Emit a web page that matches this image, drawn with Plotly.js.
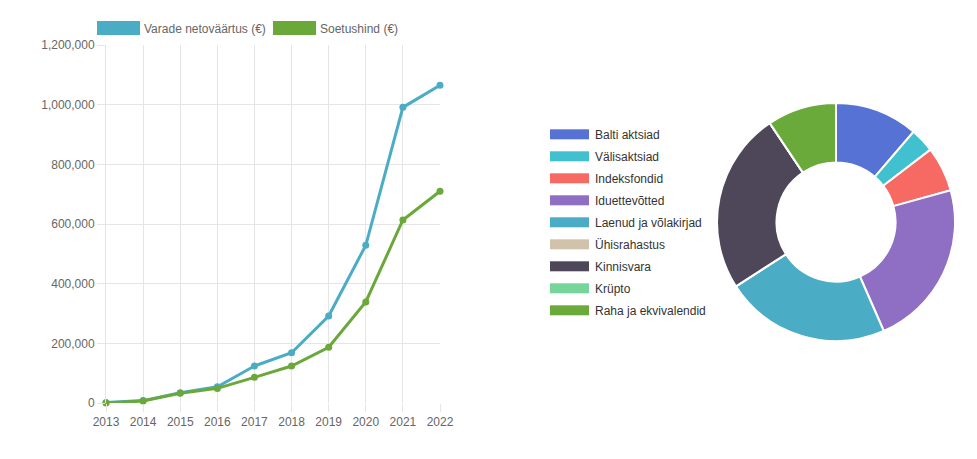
<!DOCTYPE html>
<html><head><meta charset="utf-8">
<script src="https://cdn.plot.ly/plotly-3.0.1.min.js"></script>
<style>html,body{margin:0;padding:0;background:#fff}#chart{width:977px;height:459px}</style>
</head><body><div id="chart"></div>
<script>
const years = ['2013','2014','2015','2016','2017','2018','2019','2020','2021','2022'];
const netWorth = [2000, 8000, 34500, 54600, 124000, 168600, 291600, 528600, 991000, 1065000];
const costBasis = [0, 6700, 33000, 49000, 86000, 124000, 186700, 338600, 613500, 709700];
const lineNames = ['Varade netoväärtus (€)', 'Soetushind (€)'];
const lineColors = ['#4bacc6', '#6aa839'];

const assetLabels = ['Balti aktsiad','Välisaktsiad','Indeksfondid','Iduettevõtted','Laenud ja võlakirjad','Ühisrahastus','Kinnisvara','Krüpto','Raha ja ekvivalendid'];
const assetShares = [11.3, 3.3, 6.1, 22.75, 22.5, 0, 24.7, 0, 9.4];
const assetColors = ['#5572d4','#41c1cf','#f76a63','#8e6fc4','#4bacc6','#d1c3ab','#4e4659','#75d59a','#6aaa3a'];

const font = {family: 'Liberation Sans, Arial, sans-serif', size: 12, color: '#666'};

const data = [
  {type:'scatter', mode:'lines+markers', x: years.map(Number), y: netWorth, name: lineNames[0], cliponaxis:false,
   line:{color: lineColors[0], width:3}, marker:{color: lineColors[0], size:7}, legend:'legend'},
  {type:'scatter', mode:'lines+markers', x: years.map(Number), y: costBasis, name: lineNames[1], cliponaxis:false,
   line:{color: lineColors[1], width:3}, marker:{color: lineColors[1], size:7}, legend:'legend'},
  {type:'pie', labels: assetLabels, values: assetShares, sort:false, direction:'clockwise', rotation:0,
   hole:0.5, textinfo:'none', marker:{colors: assetColors, line:{color:'#fff', width:2}},
   domain:{x:[0.7339,0.9775], y:[0.257,0.7756]}, legend:'legend2', showlegend:true}
];

const layout = {
  width:977, height:459, margin:{l:0,r:0,t:0,b:0},
  paper_bgcolor:'#fff', plot_bgcolor:'#fff', font: font,
  xaxis:{domain:[106/977, 440/977], range:[2013,2022], tickmode:'array', tickvals: years.map(Number), ticktext: years,
    showgrid:true, gridcolor:'#e5e5e5', zeroline:false, showline:false, ticks:'outside', ticklen:8, tickcolor:'#e5e5e5', tickfont:font},
  yaxis:{domain:[1-403/459, 1-45/459], range:[0,1200000], dtick:200000, tickformat:',d',
    showgrid:true, gridcolor:'#e5e5e5', zeroline:false, showline:true, linecolor:'#e5e5e5', ticks:'outside', ticklen:8, tickcolor:'#e5e5e5', tickfont:font},
  legend:{orientation:'h', x:0.275, xanchor:'center', y:1-28/459, yanchor:'middle', font:{...font, color:'#666'}, bgcolor:'rgba(0,0,0,0)', itemwidth:50},
  legend2:{orientation:'v', x:547/977, xanchor:'left', y:1-133/459, yanchor:'top', font:{...font, color:'#333'}, bgcolor:'rgba(0,0,0,0)', itemwidth:50, traceorder:'normal'},
  showlegend:true
};

// legend styling (wide boxes like the reference)
const legendStyles = {
  legend:  {w:43, h:14, gap:4, boxX:[97, 273], centerY:[28, 28], colors: lineColors},
  legend2: {w:39, h:10, gap:6, boxX: assetLabels.map(()=>550), centerY: assetLabels.map((_,i)=>134.3 + i*22), colors: assetColors}
};

function restyleLegend(gd, cls, st){
  const leg = gd.querySelector('g.' + cls);
  if (!leg) return;
  leg.querySelectorAll('[clip-path]').forEach(e => e.removeAttribute('clip-path'));
  leg.removeAttribute('clip-path');
  const svgRect = gd.querySelector('svg.main-svg').getBoundingClientRect();
  const items = leg.querySelectorAll('g.traces');
  items.forEach((it, i) => {
    if (i >= st.colors.length) return;
    it.querySelectorAll('.legendlines path, .legendpoints path').forEach(p => p.style.display = 'none');
    let r = it.querySelector('rect.boxsym');
    if (!r) {
      r = document.createElementNS('http://www.w3.org/2000/svg', 'rect');
      r.setAttribute('class', 'boxsym');
      it.appendChild(r);
    }
    r.setAttribute('x', 0); r.setAttribute('y', -st.h/2);
    r.setAttribute('width', st.w); r.setAttribute('height', st.h);
    r.setAttribute('fill', st.colors[i]);
    const rr = r.getBoundingClientRect();
    const dx = st.boxX[i] - (rr.left - svgRect.left);
    const dy = st.centerY[i] - (rr.top + rr.height/2 - svgRect.top);
    const m = /translate\(\s*([-\d.e]+)[ ,]+([-\d.e]+)\s*\)/.exec(it.getAttribute('transform') || 'translate(0,0)');
    const tx = m ? +m[1] : 0, ty = m ? +m[2] : 0;
    it.setAttribute('transform', 'translate(' + (tx + dx) + ',' + (ty + dy) + ')');
    const t = it.querySelector('text.legendtext, text.' + cls + 'text');
    if (t) {
      t.setAttribute('x', st.w + st.gap);
      t.querySelectorAll('tspan').forEach(s => { if (s.getAttribute('x') !== null) s.setAttribute('x', st.w + st.gap); });
    }
  });
}

function fixAll(gd){
  restyleLegend(gd, 'legend', legendStyles.legend);
  restyleLegend(gd, 'legend2', legendStyles.legend2);
}

Plotly.newPlot('chart', data, layout, {staticPlot:true, displayModeBar:false}).then(gd => {
  fixAll(gd);
});
</script></body></html>
